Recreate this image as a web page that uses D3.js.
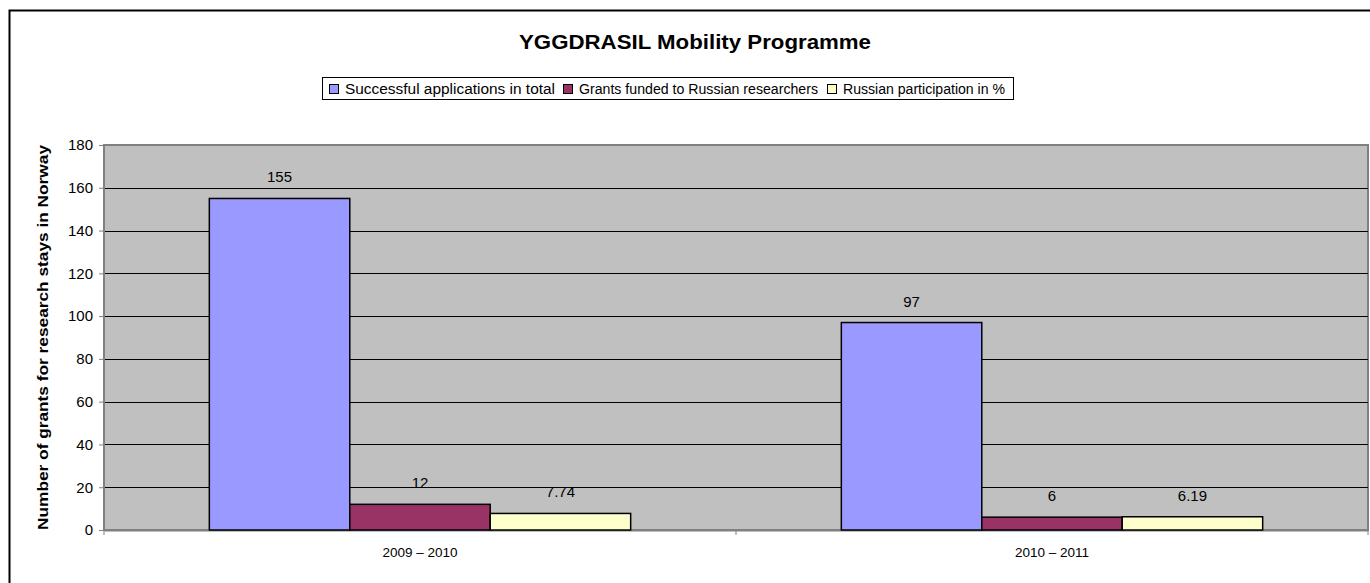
<!DOCTYPE html>
<html>
<head>
<meta charset="utf-8">
<script src="https://cdn.jsdelivr.net/npm/d3@7"></script>
<style>
  body { margin: 0; background: #fff; }
  svg { display: block; font-family: "Liberation Sans", Arial, sans-serif; }
</style>
</head>
<body>
<div id="chart"></div>
<script>

// chart values
const categories = ["2009 – 2010", "2010 – 2011"];
const seriesNames = ["Successful applications in total", "Grants funded to Russian researchers", "Russian participation in %"];
const totalApps = [155, 97];
const russianGrants = [12, 6];
const russianPct = [7.74, 6.19];
const yTicks = [0, 20, 40, 60, 80, 100, 120, 140, 160, 180];

const colors = ["#9999FF", "#993366", "#FFFFCC"];

// size of page + plot area
const width = 1370;
const height = 583;
const margin = {left: 104, right: 2, top: 145, bottom: 53};

const svg = d3.select("#chart")
  .append("svg")
  .attr("width", width)
  .attr("height", height);

// outer chart border (runs off right & bottom)
svg.append("rect")
  .attr("x", 9.5).attr("y", 10.5)
  .attr("width", width + 20).attr("height", height + 20)
  .attr("fill", "none")
  .attr("stroke", "#000")
  .attr("stroke-width", 2);

// build rows for grouped bars
const data = categories.map((c, i) => ({
  cat: c,
  vals: [totalApps[i], russianGrants[i], russianPct[i]]
}));

// scales
let x0 = d3.scaleBand()
  .domain(categories)
  .range([margin.left, width - margin.right]);

let x1 = d3.scaleBand()
  .domain(d3.range(seriesNames.length))
  .range([0, x0.bandwidth()])
  .paddingInner(0)
  .paddingOuter(0.75);

let y = d3.scaleLinear()
  .domain([0, 180])
  .range([height - margin.bottom, margin.top]);

// plot background
svg.append("rect")
  .attr("x", margin.left)
  .attr("y", margin.top)
  .attr("width", width - margin.right - margin.left)
  .attr("height", y(0) - margin.top)
  .attr("fill", "#C0C0C0")
  .attr("stroke", "#808080")
  .attr("stroke-width", 2);

// gridlines
svg.append("g")
  .selectAll("line")
  .data(yTicks.filter(t => t > 0 && t < 180))
  .enter()
  .append("line")
    .attr("x1", margin.left)
    .attr("x2", width - margin.right)
    .attr("y1", d => Math.round(y(d)) + 0.5)
    .attr("y2", d => Math.round(y(d)) + 0.5)
    .attr("stroke", "#000")
    .attr("stroke-width", 1);

// y axis
const yAxis = svg.append("g")
  .attr("transform", `translate(${margin.left}, 0)`)
  .call(d3.axisLeft(y).tickValues(yTicks).tickSize(5).tickPadding(6))
  .attr("font-size", "15px")
  .attr("font-family", "Liberation Sans, Arial, sans-serif");
yAxis.select(".domain").attr("stroke", "#808080");
yAxis.selectAll(".tick line").attr("stroke", "#808080");
yAxis.selectAll("text").attr("fill", "#000");

// x axis: ticks sit on category boundaries
const xAxis = svg.append("g")
  .attr("transform", `translate(0, ${y(0)})`)
  .call(d3.axisBottom(x0).tickSize(0).tickPadding(17))
  .attr("font-size", "13.5px")
  .attr("font-family", "Liberation Sans, Arial, sans-serif");
xAxis.select(".domain").attr("stroke", "#808080").attr("stroke-width", 2);
xAxis.selectAll("text").attr("fill", "#000");

svg.append("g")
  .selectAll("line")
  .data([margin.left, x0(categories[1]), width - margin.right])
  .enter()
  .append("line")
    .attr("x1", d => d).attr("x2", d => d)
    .attr("y1", y(0)).attr("y2", y(0) + 5)
    .attr("stroke", "#808080");

// bars
const groups = svg.selectAll(".grp")
  .data(data)
  .enter()
  .append("g")
    .attr("class", "grp")
    .attr("transform", d => `translate(${x0(d.cat)}, 0)`);

groups.selectAll("rect")
  .data(d => d.vals)
  .enter()
  .append("rect")
    .attr("x", (d, i) => x1(i))
    .attr("y", d => y(d))
    .attr("width", x1.bandwidth())
    .attr("height", d => y(0) - y(d))
    .attr("fill", (d, i) => colors[i])
    .attr("stroke", "#000")
    .attr("stroke-width", 1.5);

// value labels
groups.selectAll("text")
  .data(d => d.vals)
  .enter()
  .append("text")
    .attr("x", (d, i) => x1(i) + x1.bandwidth() / 2)
    .attr("y", d => y(d) - 16)
    .attr("text-anchor", "middle")
    .attr("font-size", "15px")
    .text(d => d);

// title
svg.append("text")
  .attr("x", 695)
  .attr("y", 49)
  .attr("text-anchor", "middle")
  .attr("font-size", "20px")
  .attr("font-weight", "bold")
  .attr("textLength", 352)
  .attr("lengthAdjust", "spacingAndGlyphs")
  .text("YGGDRASIL Mobility Programme");

// legend
const legend = svg.append("g");
legend.append("rect")
  .attr("x", 322.5).attr("y", 77.5)
  .attr("width", 691).attr("height", 22)
  .attr("fill", "#fff")
  .attr("stroke", "#000");

const legX = [329, 563, 827];
const legLen = [210, 239, 162];
const items = legend.selectAll(".leg")
  .data(seriesNames)
  .enter()
  .append("g")
    .attr("class", "leg")
    .attr("transform", (d, i) => `translate(${legX[i]}, 84)`);

items.append("rect")
  .attr("x", 0.5).attr("y", 0.5)
  .attr("width", 9).attr("height", 9)
  .attr("fill", (d, i) => colors[i])
  .attr("stroke", "#000");

items.append("text")
  .attr("x", 16)
  .attr("y", 10)
  .attr("font-size", "14px")
  .attr("textLength", (d, i) => legLen[i])
  .attr("lengthAdjust", "spacingAndGlyphs")
  .text(d => d);

// y axis title
svg.append("text")
  .attr("transform", `translate(48, ${(margin.top + y(0)) / 2}) rotate(-90)`)
  .attr("text-anchor", "middle")
  .attr("font-size", "15px")
  .attr("font-weight", "bold")
  .attr("textLength", 385)
  .attr("lengthAdjust", "spacingAndGlyphs")
  .text("Number of grants for research stays in Norway");

</script>
</body>
</html>
